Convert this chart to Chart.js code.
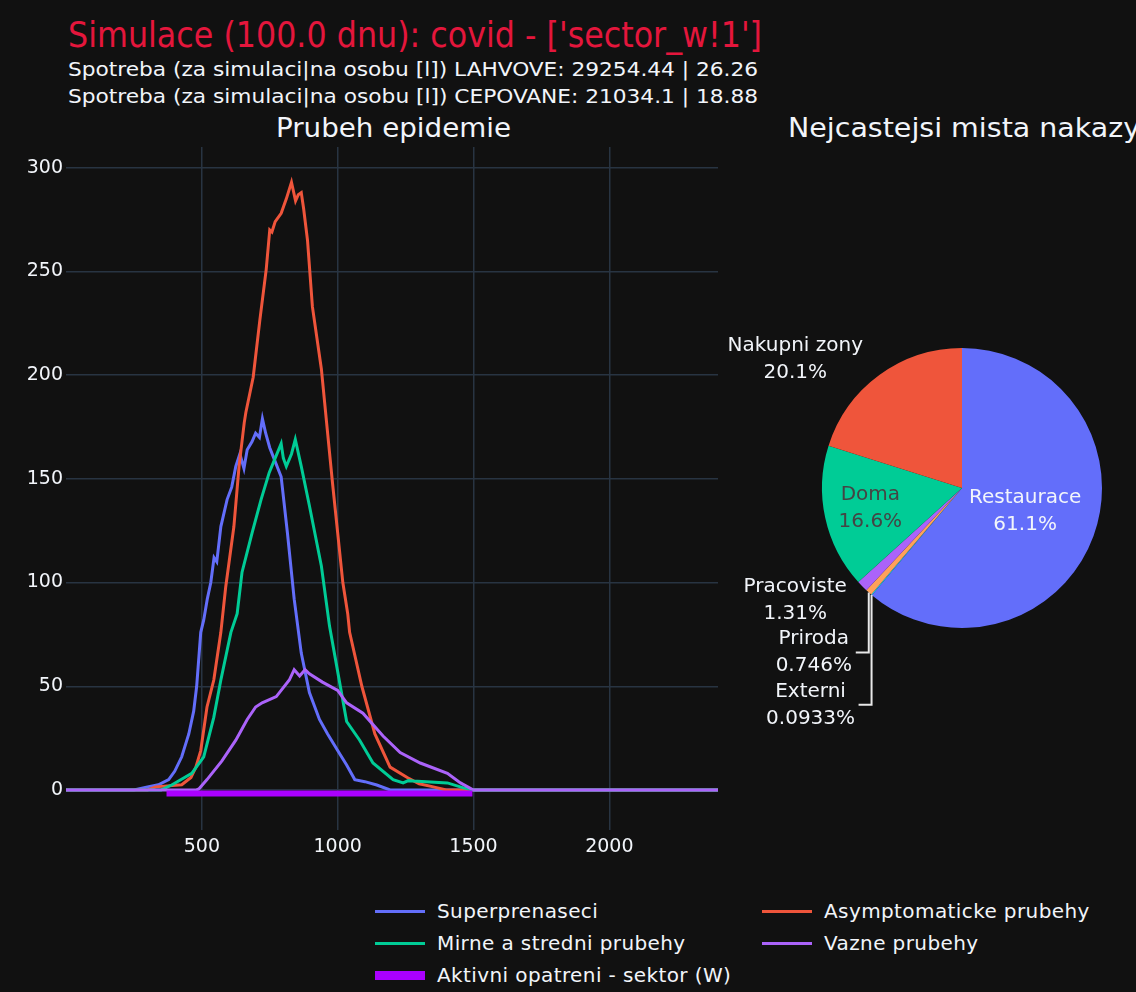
<!DOCTYPE html>
<html>
<head>
<meta charset="utf-8">
<script src="https://cdn.jsdelivr.net/npm/chart.js@4.4.0/dist/chart.umd.min.js"></script>
<style>
  body { margin: 0; background: #111111; width: 1136px; height: 992px; overflow: hidden; position: relative; }
  svg.txt { position: absolute; left: 0; top: 0; }
  #lineChart { position: absolute; left: 0; top: 147px; }
  #pieChart { position: absolute; left: 700px; top: 320px; }
  #legend { position: absolute; left: 375px; top: 895px; display: grid; grid-template-columns: 387px auto; grid-auto-rows: 32px;
            font-family: "DejaVu Sans", sans-serif; font-size: 20px; letter-spacing: 0.4px; color: #f2f5fa; }
  #legend .item { display: flex; align-items: center; white-space: nowrap; }
  #legend .sw { width: 50px; margin-right: 12px; }
</style>
</head>
<body>
<svg class="txt" width="1136" height="160" font-family="DejaVu Sans Condensed, DejaVu Sans, sans-serif">
  <text x="68" y="47" font-size="36" fill="#e4163c" textLength="694" lengthAdjust="spacingAndGlyphs">Simulace (100.0 dnu): covid - ['sector_w!1']</text>
  <text x="68" y="76" font-size="20" fill="#f2f5fa" textLength="690" lengthAdjust="spacingAndGlyphs">Spotreba (za simulaci|na osobu [l]) LAHVOVE: 29254.44 | 26.26</text>
  <text x="68" y="103" font-size="20" fill="#f2f5fa" textLength="690" lengthAdjust="spacingAndGlyphs">Spotreba (za simulaci|na osobu [l]) CEPOVANE: 21034.1 | 18.88</text>
  <text x="276" y="137" font-size="26" fill="#f2f5fa" textLength="235" lengthAdjust="spacingAndGlyphs">Prubeh epidemie</text>
  <text x="788" y="137" font-size="26" fill="#f2f5fa" textLength="352" lengthAdjust="spacingAndGlyphs">Nejcastejsi mista nakazy</text>
</svg>
<canvas id="lineChart" width="718" height="723"></canvas>
<canvas id="pieChart" width="436" height="440"></canvas>
<div id="legend"></div>
<script>
// ---- data: Prubeh epidemie (x = hodiny simulace) ----
var superX = [0, 250, 300, 340, 378, 400, 426, 452, 470, 481, 496, 507, 520, 533, 545, 555, 570, 593, 610, 625, 640, 655, 667, 685, 698, 712, 723, 735, 750, 765, 792, 815, 840, 866, 896, 933, 963, 1000, 1033, 1063, 1100, 1144, 1193, 2400];
var superY = [0, 0, 1.5, 2.5, 5, 9, 16, 27, 38, 50, 76, 82, 92, 100, 112, 110, 127, 140, 146, 156, 162, 155, 164, 168, 172, 170, 179, 172, 165, 160, 151, 124, 92, 66, 47, 34, 27, 19, 12, 5, 4, 2.4, 0, 0];

var asymX = [0, 300, 330, 426, 460, 478, 496, 519, 544, 570, 588, 618, 637, 656, 662, 689, 714, 737, 750, 758, 770, 792, 811, 830, 845, 855, 866, 875, 889, 907, 940, 963, 981, 1019, 1037, 1044, 1089, 1137, 1193, 1256, 1300, 1352, 1400, 2400];
var asymY = [0, 0, 1.5, 2.5, 6, 11, 19, 40, 53, 76, 98, 127, 156, 177, 182, 199, 227, 251, 270, 269, 274, 278, 285, 293, 284, 287, 288, 280, 265, 233, 203, 172, 148, 100, 85, 76, 50, 27, 11, 6, 3, 1.5, 0, 0];

var mirneX = [0, 350, 389, 463, 507, 544, 570, 607, 630, 648, 685, 718, 748, 770, 792, 800, 811, 830, 844, 866, 896, 940, 970, 1007, 1033, 1081, 1130, 1204, 1241, 1260, 1278, 1404, 1463, 1500, 2400];
var mirneY = [0, 0, 2.4, 8, 16, 35, 53, 76, 85, 105, 124, 140, 153, 160, 167, 160, 156, 162, 169, 156, 137, 108, 79, 52, 33, 24, 13, 5, 3.4, 4.5, 4.3, 3.4, 1, 0, 0];

var vazneX = [0, 480, 489, 519, 574, 625, 667, 698, 722, 774, 822, 840, 860, 880, 896, 944, 1000, 1033, 1093, 1167, 1230, 1304, 1404, 1452, 1500, 2400];
var vazneY = [0, 0, 0.5, 5, 14, 24, 34, 40, 42, 45, 53, 58, 55, 58, 56, 52, 48, 42, 37, 26, 18, 13, 8, 3.4, 0, 0];

var opatreniX = [370, 1496];
var opatreniY = [-1.7, -1.7];

var xTickValues = [500, 1000, 1500, 2000];
var yTickValues = [0, 50, 100, 150, 200, 250, 300];

// ---- data: Nejcastejsi mista nakazy (%) ----
var pieLabels = ['Restaurace', 'Externi', 'Priroda', 'Pracoviste', 'Doma', 'Nakupni zony'];
var pieValues = [61.1, 0.0933, 0.746, 1.31, 16.6, 20.1];
var pieColors = ['#636efa', '#19d3f3', '#ffa15a', '#ab63fa', '#00cc96', '#ef553b'];

var pts = (xs, ys) => xs.map((x, i) => ({ x: x, y: ys[i] }));

var tickFont = { family: '"DejaVu Sans", sans-serif', size: 19 };
var gridColor = '#283442';

var lineChart = new Chart(document.getElementById('lineChart').getContext('2d'), {
    type: 'line',
    data: {
        datasets: [
            { label: 'Superprenaseci', data: pts(superX, superY), borderColor: '#636efa', borderWidth: 3, order: 4 },
            { label: 'Asymptomaticke prubehy', data: pts(asymX, asymY), borderColor: '#ef553b', borderWidth: 3, order: 3 },
            { label: 'Mirne a stredni prubehy', data: pts(mirneX, mirneY), borderColor: '#00cc96', borderWidth: 3, order: 2 },
            { label: 'Vazne prubehy', data: pts(vazneX, vazneY), borderColor: '#ab63fa', borderWidth: 3, order: 1 },
            { label: 'Aktivni opatreni - sektor (W)', data: pts(opatreniX, opatreniY), borderColor: '#aa00ff', borderWidth: 6, order: 0 }
        ]
    },
    options: {
        responsive: false,
        animation: false,
        devicePixelRatio: 1,
        layout: { padding: 0 },
        elements: { point: { radius: 0 }, line: { tension: 0, borderCapStyle: 'butt' } },
        plugins: { legend: { display: false }, tooltip: { enabled: false } },
        scales: {
            x: {
                type: 'linear', min: 0, max: 2400,
                afterBuildTicks: (s) => { s.ticks = xTickValues.map(v => ({ value: v })); },
                afterFit: (s) => { s.height = 40; s.paddingLeft = 0; s.paddingRight = 0; },
                grid: { color: gridColor, lineWidth: 1.5, drawTicks: false },
                border: { display: false },
                ticks: { color: '#f2f5fa', font: tickFont, padding: 6, maxRotation: 0, callback: v => String(v) }
            },
            y: {
                min: -19.3, max: 310,
                afterBuildTicks: (s) => { s.ticks = yTickValues.map(v => ({ value: v })); },
                afterFit: (s) => { s.width = 66; s.paddingTop = 0; s.paddingBottom = 0; },
                grid: { color: gridColor, lineWidth: 1.5, drawTicks: false },
                border: { display: false },
                ticks: { color: '#f2f5fa', font: tickFont, padding: 3, callback: v => String(v) }
            }
        }
    }
});

// legend under the figure, built from the datasets
var legend = document.getElementById('legend');
lineChart.data.datasets.forEach(ds => {
    var item = document.createElement('div');
    item.className = 'item';
    var sw = document.createElement('span');
    sw.className = 'sw';
    sw.style.height = (ds.borderWidth > 4 ? 9 : 3) + 'px';
    sw.style.background = ds.borderColor;
    item.appendChild(sw);
    item.appendChild(document.createTextNode(ds.label));
    legend.appendChild(item);
});

// pie text placement (inside: fraction of radius; outside: offset from slice edge)
var pieLabelStyle = [
    { inside: true, r: 0.48, color: '#f2f5fa' },
    { dx: -61, dy: 110, connector: true },
    { dx: -55, dy: 60, connector: true },
    { dx: -67, dy: 14 },
    { inside: true, r: 0.67, color: '#444444' },
    { dx: -84, dy: -16 }
];

var pieText = {
    id: 'pieText',
    afterDatasetsDraw(chart) {
        var ctx = chart.ctx;
        var arcs = chart.getDatasetMeta(0).data;
        ctx.save();
        ctx.font = '20px "DejaVu Sans", sans-serif';
        ctx.textAlign = 'center';
        ctx.textBaseline = 'middle';
        arcs.forEach((arc, i) => {
            var st = pieLabelStyle[i];
            var mid = (arc.startAngle + arc.endAngle) / 2;
            var cx, cy;
            var ex = arc.x + arc.outerRadius * Math.cos(mid);
            var ey = arc.y + arc.outerRadius * Math.sin(mid);
            if (st.inside) {
                cx = arc.x + arc.outerRadius * st.r * Math.cos(mid);
                cy = arc.y + arc.outerRadius * st.r * Math.sin(mid);
            } else {
                cx = ex + st.dx;
                cy = ey + st.dy;
            }
            if (st.connector) {
                ctx.strokeStyle = '#e8e8e8';
                ctx.lineWidth = 2;
                ctx.beginPath();
                ctx.moveTo(ex, ey);
                ctx.lineTo(ex, cy);
                ctx.lineTo(ex - 13, cy);
                ctx.stroke();
            }
            ctx.fillStyle = st.color || '#f2f5fa';
            ctx.fillText(pieLabels[i], cx, cy - 13.5);
            ctx.fillText(String(pieValues[i]) + '%', cx, cy + 13.5);
        });
        ctx.restore();
    }
};

new Chart(document.getElementById('pieChart').getContext('2d'), {
    type: 'pie',
    data: {
        labels: pieLabels,
        datasets: [{ data: pieValues, backgroundColor: pieColors, borderWidth: 0, hoverOffset: 0 }]
    },
    options: {
        responsive: false,
        animation: false,
        devicePixelRatio: 1,
        layout: { padding: { left: 122, right: 34, top: 28, bottom: 132 } },
        plugins: { legend: { display: false }, tooltip: { enabled: false } }
    },
    plugins: [pieText]
});
</script>
</body>
</html>
